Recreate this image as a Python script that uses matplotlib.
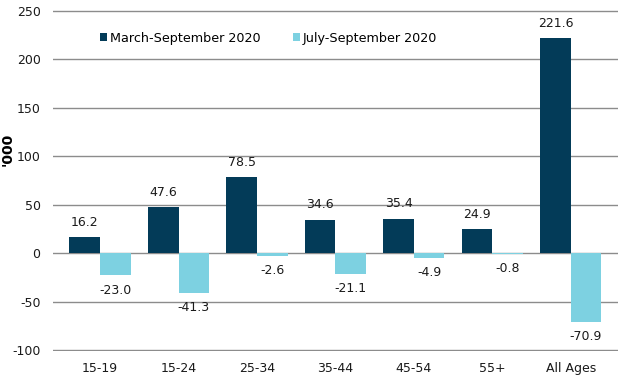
import matplotlib
matplotlib.use("Agg")
import matplotlib.pyplot as plt
import numpy as np

plt.rcParams["axes.unicode_minus"] = False

categories = ["15-19", "15-24", "25-34", "35-44", "45-54", "55+", "All Ages"]
march_sep = [16.2, 47.6, 78.5, 34.6, 35.4, 24.9, 221.6]
july_sep = [-23.0, -41.3, -2.6, -21.1, -4.9, -0.8, -70.9]
series_names = ["March-September 2020", "July-September 2020"]
colors = ["#033B58", "#7DD1E1"]

fig = plt.figure(figsize=(6.31, 3.79), dpi=100)
ax = fig.add_axes([0.084, 0.074, 0.895, 0.9])

x = np.arange(len(categories))
w = 0.39
ax.bar(x - w/2, march_sep, w, color=colors[0], label=series_names[0], zorder=3)
ax.bar(x + w/2, july_sep, w, color=colors[1], label=series_names[1], zorder=3)

for xi, v in zip(x - w/2, march_sep):
    ax.annotate(f"{v:.1f}", (xi, v), xytext=(0, 6), textcoords="offset points",
                ha="center", va="bottom", fontsize=9, color="#1a1a1a")
for xi, v in zip(x + w/2, july_sep):
    ax.annotate(f"{v:.1f}", (xi, v), xytext=(0, -6), textcoords="offset points",
                ha="center", va="top", fontsize=9, color="#1a1a1a")

ax.set_ylim(-101, 251)
ax.set_yticks(np.arange(-100, 251, 50))
ax.set_xlim(-0.6, len(categories) - 0.4)
ax.set_xticks(x)
ax.set_xticklabels(categories)
ax.yaxis.grid(True, color="#8c8c8c", linewidth=1, zorder=0)
ax.tick_params(axis="both", length=0, labelsize=9, colors="#1a1a1a")
ax.tick_params(axis="y", pad=9)
ax.tick_params(axis="x", pad=8)
for s in ax.spines.values():
    s.set_visible(False)
ax.set_ylabel("'000", fontsize=10, fontweight="bold", labelpad=0)
ax.yaxis.set_label_coords(-0.068, 0.59)

ax.legend(loc="upper left", bbox_to_anchor=(0.063, 0.97), ncol=2, frameon=False,
          fontsize=9.2, handlelength=0.55, handleheight=0.55, handletextpad=0.25,
          columnspacing=2.5)

fig.savefig("out.png", dpi=100)
